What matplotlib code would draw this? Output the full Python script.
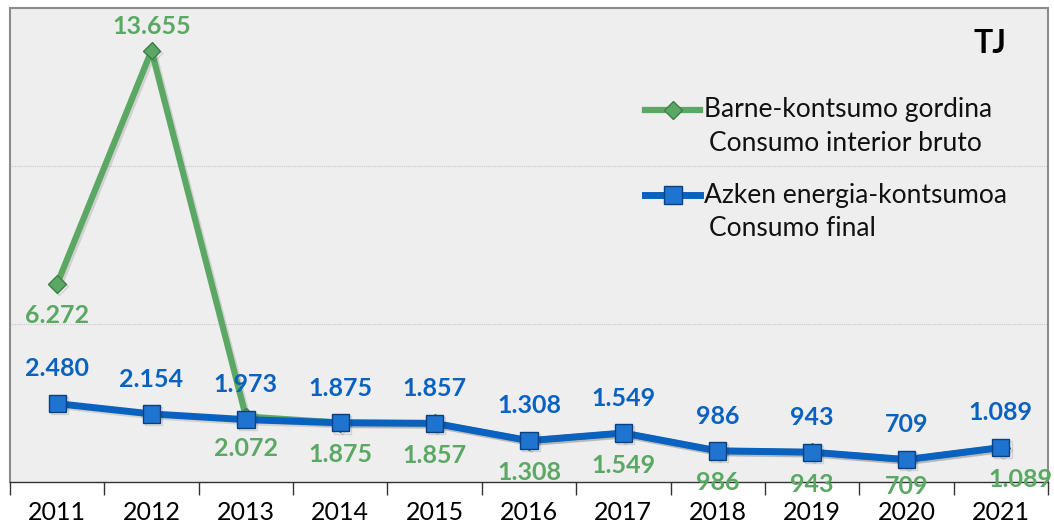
import matplotlib.pyplot as plt
import matplotlib.patheffects as pe
from matplotlib.lines import Line2D
import numpy as np

plt.rcParams['font.family'] = ['Lato', 'DejaVu Sans']

years = ['2011', '2012', '2013', '2014', '2015', '2016', '2017', '2018', '2019', '2020', '2021']
barne = [6272, 13655, 2072, 1875, 1857, 1308, 1549, 986, 943, 709, 1089]
azken = [2480, 2154, 1973, 1875, 1857, 1308, 1549, 986, 943, 709, 1089]

legend_lines = [('Barne-kontsumo gordina', 'Consumo interior bruto'),
                ('Azken energia-kontsumoa', 'Consumo final')]

green = '#5BA865'
blue = '#0A62C0'

def fmt(v):
    return f'{v:,}'.replace(',', '.')

fig = plt.figure(figsize=(10.54, 5.26), dpi=100)
ax = fig.add_axes([10 / 1054, 44 / 526, 1038 / 1054, 474 / 526])
ax.set_facecolor('#EEEEEE')

x = np.arange(len(years))
shadow = [pe.SimpleLineShadow(offset=(1.5, -1.5), alpha=0.12), pe.Normal()]

green_style = dict(color=green, lw=4.5, marker='D', markersize=9,
                   markerfacecolor='#5BA865', markeredgecolor='#3E7D47', markeredgewidth=1)
blue_style = dict(color=blue, lw=5, marker='s', markersize=12.5,
                  markerfacecolor='#1F74D0', markeredgecolor='#0B3F7E', markeredgewidth=1)

ax.plot(x, barne, path_effects=shadow, zorder=3, **green_style)
ax.plot(x, azken, path_effects=shadow, zorder=4, **blue_style)

ax.set_xlim(-0.5, len(years) - 0.5)
ax.set_ylim(0, 15000)

# labels below the green line, kept from dropping below the plot bottom (like Excel)
bottom_px = ax.transAxes.transform((0, 0))[1]
for i, v in enumerate(barne):
    if i == 1:
        ax.annotate(fmt(v), (i, v), xytext=(0, 17), textcoords='offset points',
                    ha='center', va='center', color=green, fontsize=18, fontweight='bold')
    else:
        py = ax.transData.transform((i, v))[1]
        drop = min(32, py - bottom_px + 5)
        dx = 14 if i == len(barne) - 1 else 0
        ax.annotate(fmt(v), (i, v), xytext=(dx, -drop * 0.72), textcoords='offset points',
                    ha='center', va='center', color=green, fontsize=18, fontweight='bold',
                    annotation_clip=False)
for i, v in enumerate(azken):
    ax.annotate(fmt(v), (i, v), xytext=(0, 25), textcoords='offset points',
                ha='center', va='center', color=blue, fontsize=18, fontweight='bold')

ax.text(0.944, 0.925, 'TJ', transform=ax.transAxes, ha='center', va='center',
        fontsize=23, fontweight='bold', color='black')

# legend: handle next to first line, second line slightly indented
for k, (style, (l1, l2)) in enumerate(zip([green_style, blue_style], legend_lines)):
    y1 = 1 - (110 - 8 + 85 * k) / 474
    y2 = y1 - 33 / 474
    xs = [(645 - 10) / 1038, (673 - 10) / 1038, (700 - 10) / 1038]
    ax.add_line(Line2D(xs, [y1] * 3, transform=ax.transAxes, markevery=[1],
                       zorder=5, **style))
    ax.text((704 - 10) / 1038, y1, l1, transform=ax.transAxes, ha='left', va='center',
            fontsize=19, color='#111111')
    ax.text((709 - 10) / 1038, y2, l2, transform=ax.transAxes, ha='left', va='center',
            fontsize=19, color='#111111')

ax.set_yticks([0, 5000, 10000, 15000])
ax.yaxis.grid(True, color='#C8C8C8', linestyle=(0, (1, 1)), linewidth=0.8)
ax.set_axisbelow(True)
ax.tick_params(axis='y', left=False, labelleft=False)

ax.set_xticks(x)
ax.set_xticklabels(years, fontsize=18)
ax.set_xticks(np.arange(-0.5, len(years)), minor=True)
ax.tick_params(axis='x', which='major', length=0, pad=14)
ax.tick_params(axis='x', which='minor', length=9, width=1, color='#333333')

for side in ['top', 'left', 'right']:
    ax.spines[side].set_color('#8C8C8C')
    ax.spines[side].set_linewidth(1.5)
ax.spines['bottom'].set_color('#333333')
ax.spines['bottom'].set_linewidth(1)

fig.savefig('out.png', dpi=100)
